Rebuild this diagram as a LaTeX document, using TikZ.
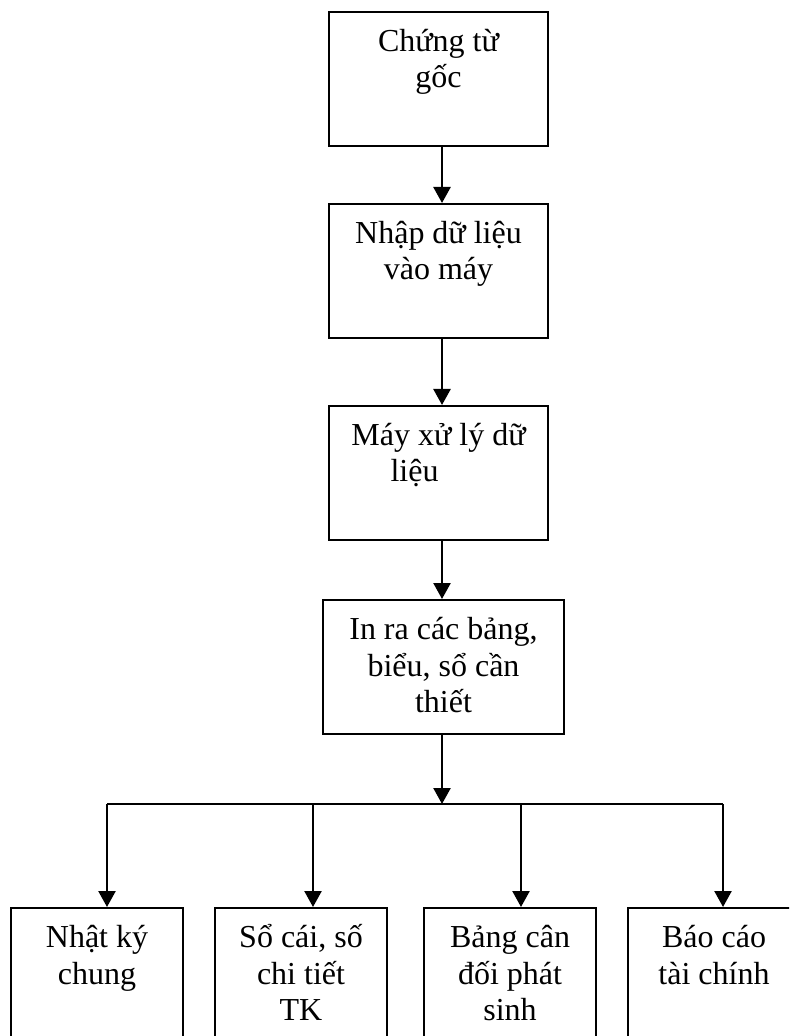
\documentclass[tikz,border=0pt]{standalone}
\usepackage{fontspec}
\setmainfont{Liberation Serif}
\usetikzlibrary{arrows.meta}

\begin{document}
\begin{tikzpicture}[x=0.5pt, y=-0.5pt,
    box/.style={draw, line width=1.2pt, inner sep=0pt, anchor=north, align=flush center,
      font=\fontsize{16pt}{18.4pt}\selectfont, text height=19.5pt, text depth=47.5pt},
    arr/.style={line width=1.2pt, -{Triangle[width=8.5pt,length=8pt]}}]
  \useasboundingbox (0,0) rectangle (789,1036);
  \clip (0,0) rectangle (789,1036);
  \node[box, text width=109.5pt] (chungtu) at (438.5,11) {Chứng từ\\gốc};
  \node[box, text width=109.5pt] (nhaplieu) at (438.5,203) {Nhập dữ liệu\\vào máy};
  \node[box, text width=109.5pt] (xuly) at (438.5,405) {Máy xử lý dữ\\\hspace*{-24pt}liệu};
  \node[box, text width=120.5pt] (inra) at (443.5,599) {In ra các bảng,\\biểu, sổ cần\\thiết};
  \foreach \n/\x/\t in {nhatky/97/{Nhật ký\\chung}, socai/301/{Sổ cái, số\\chi tiết\\TK},
      candoi/510/{Bảng cân\\đối phát\\sinh}, baocao/714/{Báo cáo\\tài chính}}
    \node[box, text width=86pt, text depth=70pt] (\n) at (\x,907) {\t};
  \coordinate (spine) at (442,804);
  \draw[arr] (chungtu.south -| spine) -- (nhaplieu.north -| spine);
  \draw[arr] (nhaplieu.south -| spine) -- (xuly.north -| spine);
  \draw[arr] (xuly.south -| spine) -- (inra.north -| spine);
  \draw[arr] (inra.south -| spine) -- (spine);
  \foreach \n/\x in {nhatky/107, socai/313, candoi/521, baocao/723} {
    \coordinate (\n-in) at (\x,804);
    \draw[arr] (\n-in) -- (\n-in |- \n.north);
  }
  \draw[line width=1.2pt] (nhatky-in) -- (baocao-in);
\end{tikzpicture}
\end{document}
